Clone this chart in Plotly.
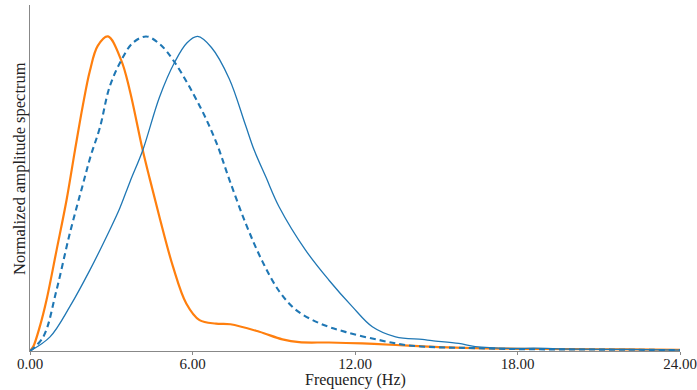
import plotly.graph_objects as go

# Frequency (Hz) / normalized amplitude
freq_orange = [0, 0.12, 0.37, 0.61, 0.98, 1.35, 1.66, 1.95, 2.21, 2.5, 2.88, 3.37, 3.68, 4.15, 4.42, 4.78,
               5.28, 5.77, 6.26, 6.87, 7.4, 8.47, 9.32, 9.94, 11.04, 12.27, 13.5, 14.72, 16, 18, 20, 22, 24]
amp_orange = [0, 0.014, 0.08, 0.162, 0.32, 0.48, 0.638, 0.78, 0.89, 0.97, 1.0, 0.924, 0.83, 0.643, 0.548, 0.426,
              0.268, 0.151, 0.098, 0.087, 0.085, 0.061, 0.037, 0.028, 0.027, 0.024, 0.019, 0.014, 0.010, 0.007, 0.006, 0.005, 0.004]

freq_dash = [0, 0.49, 0.98, 1.47, 1.96, 2.24, 2.58, 2.94, 3.37, 3.8, 4.29, 4.8, 5.34, 6.26, 6.87, 7.36,
             7.99, 8.58, 9.2, 9.83, 10.67, 11.67, 12.88, 13.87, 15, 16, 18, 20, 22, 24]
amp_dash = [0, 0.045, 0.194, 0.374, 0.532, 0.62, 0.71, 0.84, 0.924, 0.98, 1.0, 0.975, 0.918, 0.78, 0.665, 0.545,
            0.4, 0.285, 0.19, 0.13, 0.089, 0.06, 0.035, 0.019, 0.012, 0.010, 0.006, 0.005, 0.004, 0.003]

freq_solid = [0, 0.74, 1.47, 2.21, 2.94, 3.31, 3.7, 4.17, 4.78, 5.34, 5.8, 6.19, 6.7, 7.36, 7.95, 8.28, 8.71,
              9.2, 10.18, 11.04, 11.9, 12.64, 13.5, 14.48, 14.84, 15.83, 16.44, 17.91, 18.6, 20, 22, 24]
amp_solid = [0, 0.045, 0.141, 0.257, 0.384, 0.453, 0.54, 0.64, 0.807, 0.918, 0.98, 1.0, 0.965, 0.865, 0.72, 0.638, 0.553,
             0.458, 0.32, 0.225, 0.141, 0.077, 0.045, 0.037, 0.033, 0.024, 0.014, 0.008, 0.009, 0.006, 0.005, 0.003]

x_ticks = [0, 6, 12, 18, 24]
x_tick_labels = ["0.00", "6.00", "12.00", "18.00", "24.00"]

ORANGE = "#ff7f0e"
BLUE = "#1f77b4"
FONT = "Liberation Serif"

fig = go.Figure()
fig.add_trace(go.Scatter(x=freq_orange, y=amp_orange, mode="lines",
                         line=dict(color=ORANGE, width=2.2, shape="spline", smoothing=1.0)))
fig.add_trace(go.Scatter(x=freq_solid, y=amp_solid, mode="lines",
                         line=dict(color=BLUE, width=1.3, shape="spline", smoothing=1.0)))
fig.add_trace(go.Scatter(x=freq_dash, y=amp_dash, mode="lines",
                         line=dict(color=BLUE, width=2.1, dash="6px,4px", shape="spline", smoothing=1.0)))

ML, MR, MT, MB = 30, 17, 5, 39
plot_w = 697 - ML - MR
plot_h = 390 - MT - MB

fig.update_layout(
    width=697, height=390,
    margin=dict(l=ML, r=MR, t=MT, b=MB, autoexpand=False),
    paper_bgcolor="white", plot_bgcolor="white",
    showlegend=False,
    font=dict(family=FONT, size=15, color="#222"),
    xaxis=dict(range=[0, 24], tickvals=x_ticks, ticktext=x_tick_labels, automargin=False,
               showgrid=False, zeroline=False, showline=True, linecolor="#888", linewidth=1,
               ticks="outside", ticklen=3, tickcolor="#888", tickfont=dict(size=15),
               ticklabeloverflow="allow", ticklabelstandoff=-4),
    yaxis=dict(range=[0, 1.1], showgrid=False, zeroline=False, showline=True, linecolor="#888",
               linewidth=1, showticklabels=False, ticks="", automargin=False),
    annotations=[
        dict(text="Frequency (Hz)", xref="paper", yref="paper",
             x=(355 - ML) / plot_w, y=(390 - MB - 380) / plot_h,
             xanchor="center", yanchor="middle", showarrow=False, font=dict(size=16)),
        dict(text="Normalized amplitude spectrum", xref="paper", yref="paper",
             x=(19 - ML) / plot_w, y=(390 - MB - 169) / plot_h,
             xanchor="center", yanchor="middle", showarrow=False, textangle=-90,
             font=dict(size=16.5)),
    ],
)

fig.write_html("out.html", config={"displayModeBar": False},
               post_script="document.body.style.margin='0';document.body.style.overflow='hidden';")
